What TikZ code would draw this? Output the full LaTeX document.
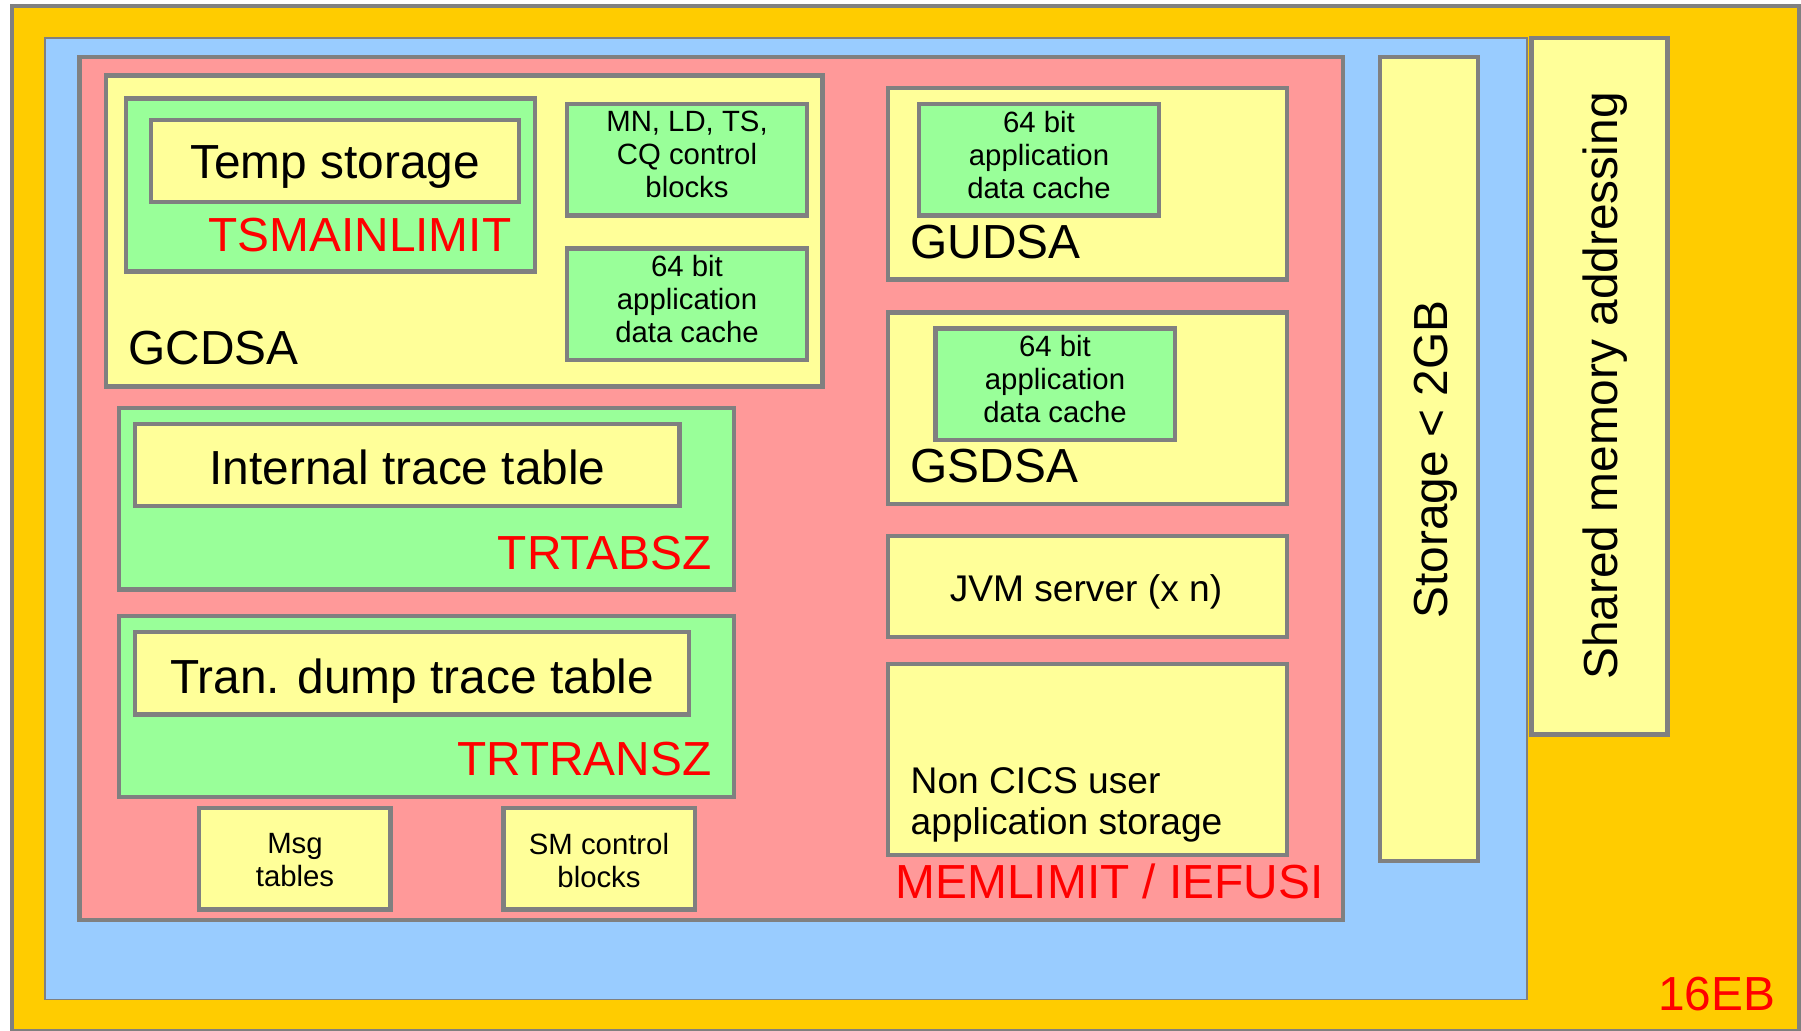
\documentclass[tikz,border=0pt]{standalone}
\usepackage{fontspec}
\setmainfont{Liberation Sans}
\usepackage{xcolor}
\usepackage{tikz}
\definecolor{memorange}{HTML}{FFCC00}
\definecolor{memblue}{HTML}{99CCFF}
\definecolor{mempink}{HTML}{FF9999}
\definecolor{memyellow}{HTML}{FFFF99}
\definecolor{memgreen}{HTML}{99FF99}
\definecolor{memgrey}{HTML}{808080}
\newcommand{\bigtext}{\fontsize{13.6}{16.3}\selectfont}
\newcommand{\midtext}{\fontsize{10.56}{11.67}\selectfont}
\newcommand{\smalltext}{\fontsize{8.34}{9.33}\selectfont}

\begin{document}
\begin{tikzpicture}[x=0.01cm,y=-0.01cm,
        area/.style={draw=memgrey,line width=1.22pt},
        thinarea/.style={draw=memgrey,line width=0.5pt},
        biglbl/.style={font=\bigtext,inner sep=0pt},
        midlbl/.style={font=\midtext,inner sep=0pt},
        smalllbl/.style={font=\smalltext,inner sep=0pt,align=center,anchor=north},
        limitlbl/.style={biglbl,text=red}]
        \useasboundingbox (0,0) rectangle (1801,1030);
        \draw[area,fill=memorange] (11.7,6.3) rectangle (1799,1031.5);
        \draw[thinarea,fill=memblue] (45.2,38.2) rectangle (1527,999.5);
        \draw[area,fill=mempink] (79.5,57) rectangle (1343,919.8);
        \draw[area,fill=memyellow] (106,75.5) rectangle (822.5,386.5);
        \draw[area,fill=memgreen] (126.3,98.5) rectangle (534.8,271.5);
        \draw[area,fill=memyellow] (151.3,120) rectangle (518.8,202.2);
        \draw[area,fill=memgreen] (567.2,104.2) rectangle (806.8,215.5);
        \draw[area,fill=memgreen] (567.2,248.5) rectangle (806.8,359.8);
        \draw[area,fill=memgreen] (119.2,408.2) rectangle (733.8,589.5);
        \draw[area,fill=memyellow] (134.8,423.8) rectangle (679.5,506.2);
        \draw[area,fill=memgreen] (119.2,616.2) rectangle (733.8,797.2);
        \draw[area,fill=memyellow] (134.8,632.2) rectangle (689.2,714.5);
        \draw[area,fill=memyellow] (199.2,808.2) rectangle (390.5,909.5);
        \draw[area,fill=memyellow] (503.5,808.2) rectangle (694.8,909.5);
        \draw[area,fill=memyellow] (888,88.3) rectangle (1287,279.5);
        \draw[area,fill=memgreen] (919.2,104.2) rectangle (1159,215.5);
        \draw[area,fill=memyellow] (888,312.5) rectangle (1287,503.7);
        \draw[area,fill=memgreen] (935.5,328.5) rectangle (1175,439.8);
        \draw[area,fill=memyellow] (888,536.2) rectangle (1287,637.2);
        \draw[area,fill=memyellow] (888,664.3) rectangle (1287,855);
        \draw[area,fill=memyellow] (1380,57) rectangle (1478,861);
        \draw[area,fill=memyellow] (1531.5,38) rectangle (1667.5,734.5);

        \node[biglbl,anchor=base] (temp) at (335,178.6) {Temp storage};
        \node[limitlbl,anchor=base east] (tsmainlimit) at (512,251) {TSMAINLIMIT};
        \node[biglbl,anchor=base west] (gcdsa) at (128,364.5) {GCDSA};
        \node[smalllbl] (ctrlblocks) at (687,110.7) {MN, LD, TS,\\CQ control\\blocks};
        \node[smalllbl] (gcdsacache) at (687,255) {64 bit\\application\\data cache};
        \node[biglbl,anchor=base] (intrace) at (407.5,484.5) {Internal trace table};
        \node[limitlbl,anchor=base east] (trtabsz) at (712,569) {TRTABSZ};
        \node[biglbl,anchor=base] (dumptrace) at (412,693.3) {Tran. dump trace table};
        \node[limitlbl,anchor=base east] (trtransz) at (712,775) {TRTRANSZ};
        \node[smalllbl] (msgtables) at (295,833) {Msg\\tables};
        \node[smalllbl] (smblocks) at (599,833) {SM control\\blocks};
        \node[smalllbl] (gudsacache) at (1039,110.7) {64 bit\\application\\data cache};
        \node[biglbl,anchor=base west] (gudsa) at (910,258.3) {GUDSA};
        \node[smalllbl] (gsdsacache) at (1055,335) {64 bit\\application\\data cache};
        \node[biglbl,anchor=base west] (gsdsa) at (910,482) {GSDSA};
        \node[midlbl,anchor=base] (jvm) at (1086,601.3) {JVM server (x n)};
        \node[midlbl,anchor=north west,align=left] (noncics) at (910,766.7) {Non CICS user\\application storage};
        \node[limitlbl,anchor=base west] (memlimit) at (895,898.3) {MEMLIMIT / IEFUSI};
        \node[biglbl,anchor=base,rotate=90] (below2gb) at (1447,459.5) {Storage < 2GB};
        \node[biglbl,anchor=base,rotate=90] (shared) at (1617,386) {Shared memory addressing};
        \node[limitlbl,anchor=base east] (exabytes) at (1776,1010) {16EB};
    \end{tikzpicture}
\end{document}
